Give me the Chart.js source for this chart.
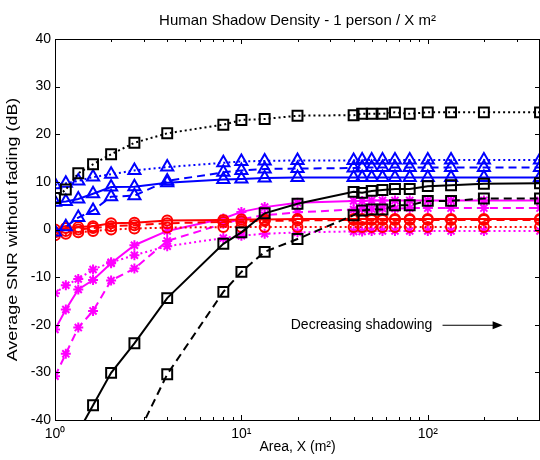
<!DOCTYPE html>
<html>
<head>
<meta charset="utf-8">
<script src="https://cdn.jsdelivr.net/npm/chart.js@4.4.0/dist/chart.umd.min.js"></script>
<style>
  body { margin: 0; background: #fff; }
  #chart { display: block; }
</style>
</head>
<body>
<canvas id="chart" width="540" height="460"></canvas>
<script>
// Area values (m^2) shared by every curve
const areas = [1, 1.143, 1.333, 1.6, 2, 2.667, 4, 8, 10, 13.33, 20, 40, 44.44, 50, 57.14, 66.67, 80, 100, 133.3, 200, 400];

// Black squares
const blackDotted = [6.6, 8.4, 11.8, 13.7, 15.8, 18.2, 20.2, 22.0, 23.0, 23.2, 23.9, 24.0, 24.3, 24.3, 24.3, 24.6, 24.3, 24.6, 24.6, 24.6, 24.6];
const blackSolid = [-51, -47, -42.5, -36.9, -30.1, -23.9, -14.4, -3.0, -0.6, 3.4, 5.4, 7.9, 7.7, 8.1, 8.3, 8.5, 8.5, 9.1, 9.3, 9.6, 9.7];
const blackDashed = [null, null, null, null, null, -44.5, -30.4, -13.1, -8.9, -4.7, -2.0, 3.0, 4.0, 4.2, 4.2, 5.1, 5.1, 6.0, 6.0, 6.5, 6.5];

// Blue triangles
const blueDotted = [9.4, 9.7, 10.2, 11.0, 11.6, 12.4, 13.1, 14.0, 14.3, 14.4, 14.5, 14.5, 14.6, 14.6, 14.6, 14.6, 14.6, 14.6, 14.6, 14.6, 14.6];
const blueDashed = [-0.5, 0.6, 2.5, 4.0, 6.9, 7.1, 10.2, 12.0, 12.4, 12.7, 12.8, 12.9, 13.0, 13.0, 13.0, 13.0, 13.0, 13.0, 13.0, 13.0, 13.0];
const blueSolid = [5.7, 5.9, 6.4, 7.5, 8.9, 9.0, 9.8, 10.5, 10.6, 10.8, 10.9, 10.9, 10.9, 10.9, 10.9, 10.9, 10.9, 10.9, 10.9, 10.9, 10.9];

// Red circles
const redSolid = [0.0, 0.3, 0.5, 0.7, 1.3, 1.4, 1.9, 2.0, 2.1, 2.1, 2.2, 2.2, 2.2, 2.2, 2.2, 2.2, 2.2, 2.2, 2.2, 2.2, 2.2];
const redDashed = [-0.6, -0.3, 0.0, 0.3, 0.7, 0.9, 1.3, 1.6, 1.7, 1.8, 1.9, 2.0, 2.0, 2.0, 2.0, 2.0, 2.0, 2.0, 2.0, 2.0, 2.0];
const redDotted = [-1.2, -0.9, -0.6, -0.3, 0.0, 0.2, 0.4, 0.5, 0.5, 0.5, 0.5, 0.5, 0.5, 0.5, 0.5, 0.5, 0.5, 0.5, 0.5, 0.5, 0.5];

// Magenta stars
const magentaSolid = [-21.0, -16.8, -12.6, -10.6, -7.1, -3.3, -0.3, 2.3, 3.7, 4.7, 5.6, 6.0, 6.0, 6.1, 6.1, 6.1, 6.1, 6.1, 6.1, 6.1, 6.1];
const magentaDashed = [-30.8, -26.1, -20.6, -17.1, -10.7, -8.2, -2.4, 1.2, 2.2, 3.0, 3.6, 4.2, 4.3, 4.3, 4.4, 4.4, 4.5, 4.5, 4.5, 4.5, 4.5];
const magentaDotted = [-13.4, -11.7, -10.4, -8.4, -6.9, -5.4, -3.5, -1.8, -1.3, -0.9, -0.6, -0.4, -0.4, -0.3, -0.3, -0.3, -0.3, -0.3, -0.3, -0.3, -0.3];

// Axis ticks
const xMajorTicks = [1, 10, 100];
const xTickLabels = ['10\u2070', '10\u00b9', '10\u00b2'];
const yTicks = [-40, -30, -20, -10, 0, 10, 20, 30, 40];

const FONT = 'Liberation Sans, Arial, Helvetica, sans-serif';
const DOTTED = [2, 3];
const DASHED = [8, 5];

function series(values, color, dash, shape, radius) {
  return {
    data: values.map((v, i) => ({ x: areas[i], y: v })),
    borderColor: color,
    borderWidth: 2,
    borderDash: dash,
    pointStyle: shape,
    pointRadius: radius,
    pointBorderColor: color,
    pointBackgroundColor: shape === 'star' ? color : 'rgba(0,0,0,0)',
    pointBorderWidth: 2,
    fill: false,
    tension: 0,
    spanGaps: false
  };
}

// Inward ticks, box, y label and the "Decreasing shadowing" note, drawn like the original figure
const matlabAxes = {
  id: 'matlabAxes',
  afterDraw(chart) {
    const { ctx, chartArea: a, scales } = chart;
    const xs = scales.x, ys = scales.y;
    ctx.save();
    ctx.strokeStyle = '#000';
    ctx.lineWidth = 1;
    ctx.strokeRect(a.left + 0.5, a.top + 0.5, a.right - a.left - 1, a.bottom - a.top);

    // x ticks (log minor + major)
    for (let dec = 1; dec <= 100; dec *= 10) {
      for (let m = 1; m <= 9; m++) {
        const v = dec * m;
        if (v > 400) break;
        const px = Math.round(xs.getPixelForValue(v)) + 0.5;
        const len = m === 1 ? 5 : 3;
        ctx.beginPath();
        ctx.moveTo(px, a.bottom); ctx.lineTo(px, a.bottom - len);
        ctx.moveTo(px, a.top); ctx.lineTo(px, a.top + len);
        ctx.stroke();
      }
    }
    // y ticks
    yTicks.forEach(v => {
      const py = Math.round(ys.getPixelForValue(v)) + 0.5;
      ctx.beginPath();
      ctx.moveTo(a.left, py); ctx.lineTo(a.left + 5, py);
      ctx.moveTo(a.right, py); ctx.lineTo(a.right - 5, py);
      ctx.stroke();
    });

    // x tick labels 10^n
    ctx.fillStyle = '#000';
    ctx.textBaseline = 'alphabetic';
    ctx.font = '14px ' + FONT;
    ctx.textAlign = 'center';
    xMajorTicks.forEach((v, i) => {
      ctx.fillText(xTickLabels[i], xs.getPixelForValue(v), a.bottom + 18);
    });

    // y axis label (stretched along its length like the original)
    ctx.save();
    ctx.translate(13, (a.top + a.bottom) / 2);
    ctx.rotate(-Math.PI / 2);
    ctx.scale(1.28, 1);
    ctx.textBaseline = 'middle';
    ctx.fillText('Average SNR without fading (dB)', 0, 0);
    ctx.restore();

    // annotation
    const ty = ys.getPixelForValue(-20);
    ctx.textAlign = 'left';
    ctx.textBaseline = 'middle';
    ctx.fillText('Decreasing shadowing', xs.getPixelForValue(18.4), ty);
    const x0 = xs.getPixelForValue(120), x1 = xs.getPixelForValue(252);
    ctx.beginPath();
    ctx.moveTo(x0, ty + 0.5); ctx.lineTo(x1 - 8, ty + 0.5);
    ctx.stroke();
    ctx.beginPath();
    ctx.moveTo(x1, ty + 0.5);
    ctx.lineTo(x1 - 10, ty - 3.5);
    ctx.lineTo(x1 - 10, ty + 4.5);
    ctx.closePath();
    ctx.fill();
    ctx.restore();
  }
};

new Chart(document.getElementById('chart'), {
  type: 'line',
  data: {
    datasets: [
      series(blackDotted, '#000000', DOTTED, 'rect', 7),
      series(blackSolid, '#000000', [], 'rect', 7),
      series(blackDashed, '#000000', DASHED, 'rect', 7),
      series(blueDotted, '#0000ff', DOTTED, 'triangle', 7),
      series(blueDashed, '#0000ff', DASHED, 'triangle', 7),
      series(blueSolid, '#0000ff', [], 'triangle', 7),
      series(redSolid, '#ff0000', [], 'circle', 5),
      series(redDashed, '#ff0000', DASHED, 'circle', 5),
      series(redDotted, '#ff0000', DOTTED, 'circle', 5),
      series(magentaSolid, '#ff00ff', [], 'star', 5),
      series(magentaDashed, '#ff00ff', DASHED, 'star', 5),
      series(magentaDotted, '#ff00ff', DOTTED, 'star', 5)
    ]
  },
  options: {
    responsive: false,
    animation: false,
    layout: { autoPadding: false, padding: 0 },
    plugins: {
      legend: { display: false },
      tooltip: { enabled: false },
      title: {
        display: true,
        fullSize: false,
        text: 'Human Shadow Density - 1 person / X m\u00b2',
        color: '#000',
        font: { family: FONT, size: 15, weight: 'normal' },
        padding: { top: 12, bottom: 9 }
      }
    },
    scales: {
      x: {
        type: 'logarithmic',
        min: 1,
        max: 400,
        grid: { display: false, drawTicks: false },
        border: { display: false },
        ticks: { display: false },
        title: {
          display: true,
          text: 'Area, X (m\u00b2)',
          color: '#000',
          font: { family: FONT, size: 14 },
          padding: { top: 0, bottom: 4 }
        },
        afterFit(scale) { scale.height = 40; }
      },
      y: {
        min: -40,
        max: 40,
        afterBuildTicks(scale) { scale.ticks = yTicks.map(v => ({ value: v })); },
        grid: { display: false, drawTicks: false },
        border: { display: false },
        ticks: {
          color: '#000',
          font: { family: FONT, size: 14 },
          padding: 4
        },
        afterFit(scale) { scale.width = 55; }
      }
    }
  },
  plugins: [matlabAxes]
});
</script>
</body>
</html>
